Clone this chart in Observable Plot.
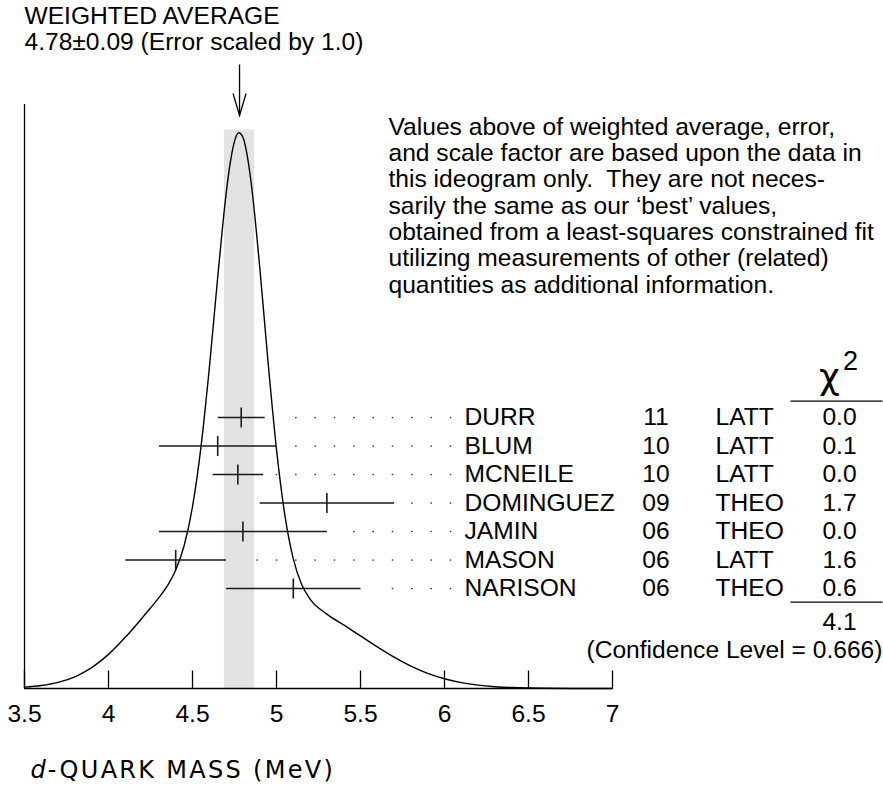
<!DOCTYPE html>
<html><head><meta charset="utf-8">
<script src="https://cdn.jsdelivr.net/npm/d3@7"></script>
<script src="https://cdn.jsdelivr.net/npm/@observablehq/plot@0.6"></script>
<style>
html,body{margin:0;padding:0;background:#fff;}
#chart svg{display:block;}
</style></head><body><div id="chart"></div>
<script>
// ---- data ----
const authors = ["DURR","BLUM","MCNEILE","DOMINGUEZ","JAMIN","MASON","NARISON"];
const years = ["11","10","10","09","06","06","06"];
const techniques = ["LATT","LATT","LATT","THEO","THEO","LATT","THEO"];
const values = [4.79,4.65,4.77,5.30,4.80,4.40,5.10];
const errors = [0.14,0.35,0.15,0.40,0.50,0.30,0.40];
const chi2 = ["0.0","0.1","0.0","1.7","0.0","1.6","0.6"];
const chi2Total = "4.1";
const confidenceLevel = "0.666";
const weightedAverage = 4.78;
const weightedError = 0.09;
const scaleFactor = "1.0";
const xTicks = [3.5,4,4.5,5,5.5,6,6.5,7];
// ideogram curve (mass in MeV, relative height)
const curveMass = [3.5,3.6,3.7,3.8,3.9,4.0,4.1,4.2,4.25,4.3,4.35,4.4,4.45,4.5,4.55,4.6,4.65,4.7,4.725,4.75,4.775,4.8,4.825,4.85,4.9,4.95,5.0,5.05,5.1,5.15,5.2,5.3,5.4,5.5,5.6,5.7,5.8,5.9,6.0,6.1,6.2,6.3,6.4,6.5,6.6,6.8,7.0];
const curveHeight = [0.30,0.64,1.31,2.51,4.46,7.30,10.95,15.09,17.22,19.44,21.96,25.35,30.56,38.92,51.55,68.54,87.99,105.85,112.6,117.1,118.95,117.98,114.23,108.01,90.27,69.78,51.19,37.05,27.75,22.25,19.14,15.92,13.60,11.25,8.90,6.70,4.79,3.25,2.08,1.26,0.72,0.39,0.20,0.10,0.04,0.01,0.0];
const noteLines = [
  "Values above of weighted average, error,",
  "and scale factor are based upon the data in",
  "this ideogram only.\u00a0 They are not neces-",
  "sarily the same as our \u2018best\u2019 values,",
  "obtained from a least-squares constrained fit",
  "utilizing measurements of other (related)",
  "quantities as additional information."
];

// ---- layout helpers (pixel -> data coordinates for annotations) ----
const W = 883, H = 787;
const mL = 24, mR = 271, mT = 104, mB = 99;
const yMax = 125;
const pxPerX = (W - mL - mR) / 3.5;
const pxPerY = (H - mT - mB) / yMax;
const xAt = px => 3.5 + (px - mL) / pxPerX;
const yAt = px => (H - mB - px) / pxPerY;

const rows = authors.map((a, i) => ({author: a, year: years[i], tech: techniques[i], value: values[i], error: errors[i], chi2: chi2[i], i}));
const curve = curveMass.map((m, i) => ({mass: m, h: curveHeight[i]}));
const rowY = r => yAt(417 + 28.5 * r.i);
const half = 10 / pxPerY;

const arrowHead = {draw(ctx) { ctx.moveTo(-6.5, -22); ctx.lineTo(0, 0); ctx.lineTo(6.5, -22); }};

const font = "'Liberation Sans', Arial, sans-serif";
const fs = 24.6;
const titleRest = "-QUARK MASS (MeV)";

const chart = Plot.plot({
  width: W, height: H,
  marginLeft: mL, marginRight: mR, marginTop: mT, marginBottom: mB,
  x: {domain: [3.5, 7], axis: null},
  y: {domain: [0, yMax], axis: null},
  style: {fontFamily: font, background: "#fff", color: "#000"},
  marks: [
    // weighted-average band
    Plot.rect([0], {x1: weightedAverage - weightedError, x2: weightedAverage + weightedError, y1: 0, y2: d3.max(curveHeight) + 0.6, fill: "#e3e3e3"}),
    // axes
    Plot.ruleX([3.5], {stroke: "#000", strokeWidth: 1.3}),
    Plot.ruleY([0], {stroke: "#000", strokeWidth: 1.3}),
    Plot.ruleX(xTicks, {x: d => d, y1: 0, y2: yAt(670.5), stroke: "#000", strokeWidth: 1.3}),
    Plot.text(xTicks, {x: d => d, y: 0, dy: 26, text: d => String(d), fontSize: fs}),
    // ideogram
    Plot.line(curve, {x: "mass", y: "h", curve: "monotone-x", stroke: "#000", strokeWidth: 1.4}),
    // measurements
    Plot.link(rows, {x1: d => d.value - d.error, x2: d => d.value + d.error, y1: rowY, y2: rowY, stroke: "#1a1a1a", strokeWidth: 1.5}),
    Plot.link(rows, {x1: "value", x2: "value", y1: d => rowY(d) - half, y2: d => rowY(d) + half, stroke: "#1a1a1a", strokeWidth: 1.6}),
    Plot.link(rows, {x1: xAt(450), x2: d => d.value + d.error + 13 / pxPerX, y1: rowY, y2: rowY, stroke: "#333", strokeWidth: 1.7, strokeDasharray: "0,19.33", strokeLinecap: "round"}),
    // table
    Plot.text(rows, {x: xAt(464), y: rowY, text: "author", textAnchor: "start", fontSize: fs}),
    Plot.text(rows, {x: xAt(655.5), y: rowY, text: "year", fontSize: fs}),
    Plot.text(rows, {x: xAt(715), y: rowY, text: "tech", textAnchor: "start", fontSize: fs}),
    Plot.text(rows, {x: xAt(839), y: rowY, text: "chi2", fontSize: fs}),
    Plot.text(["\u03c7"], {x: xAt(829), y: yAt(377), fontSize: 36, fontFamily: "DejaVu Sans"}),
    Plot.text(["2"], {x: xAt(850), y: yAt(361), fontSize: 27}),
    Plot.link([0], {x1: xAt(790), x2: xAt(882), y1: yAt(400.7), y2: yAt(400.7), stroke: "#000", strokeWidth: 1.2}),
    Plot.link([0], {x1: xAt(790), x2: xAt(882), y1: yAt(601.7), y2: yAt(601.7), stroke: "#000", strokeWidth: 1.2}),
    Plot.text([chi2Total], {x: xAt(839), y: yAt(621.7), fontSize: fs}),
    Plot.text([`(Confidence Level = ${confidenceLevel})`], {x: xAt(882), y: yAt(650), textAnchor: "end", fontSize: fs}),
    // weighted average header + arrow
    Plot.text(["WEIGHTED AVERAGE"], {x: xAt(24), y: yAt(15.5), textAnchor: "start", fontSize: fs}),
    Plot.text([`${weightedAverage.toFixed(2)}\u00b1${weightedError.toFixed(2)} (Error scaled by ${scaleFactor})`], {x: xAt(24), y: yAt(41.5), textAnchor: "start", fontSize: fs}),
    Plot.link([0], {x1: weightedAverage, x2: weightedAverage, y1: yAt(64), y2: yAt(115), stroke: "#000", strokeWidth: 1.3}),
    Plot.dot([0], {x: weightedAverage, y: yAt(115), symbol: arrowHead, r: 5, stroke: "#000", fill: "none", strokeWidth: 1.3}),
    // note
    Plot.text([noteLines.join("\n")], {x: xAt(388), y: yAt(133 - 0.71 * fs), textAnchor: "start", lineAnchor: "top", lineHeight: 26.3 / fs, fontSize: fs}),
    // axis title
    Plot.text(["d"], {x: xAt(30), y: yAt(770), textAnchor: "start", fontSize: 24, fontStyle: "italic", fontFamily: "DejaVu Sans"}),
    Plot.text([titleRest], {x: xAt(30 + 0.635 * 24 + 2), y: yAt(770), textAnchor: "start", fontSize: 24, fontFamily: "DejaVu Sans"})
  ]
});
d3.select(chart).selectAll("text").filter(function() { return this.textContent === titleRest; }).style("letter-spacing", "2.3px");
document.getElementById("chart").appendChild(chart);
</script></body></html>
